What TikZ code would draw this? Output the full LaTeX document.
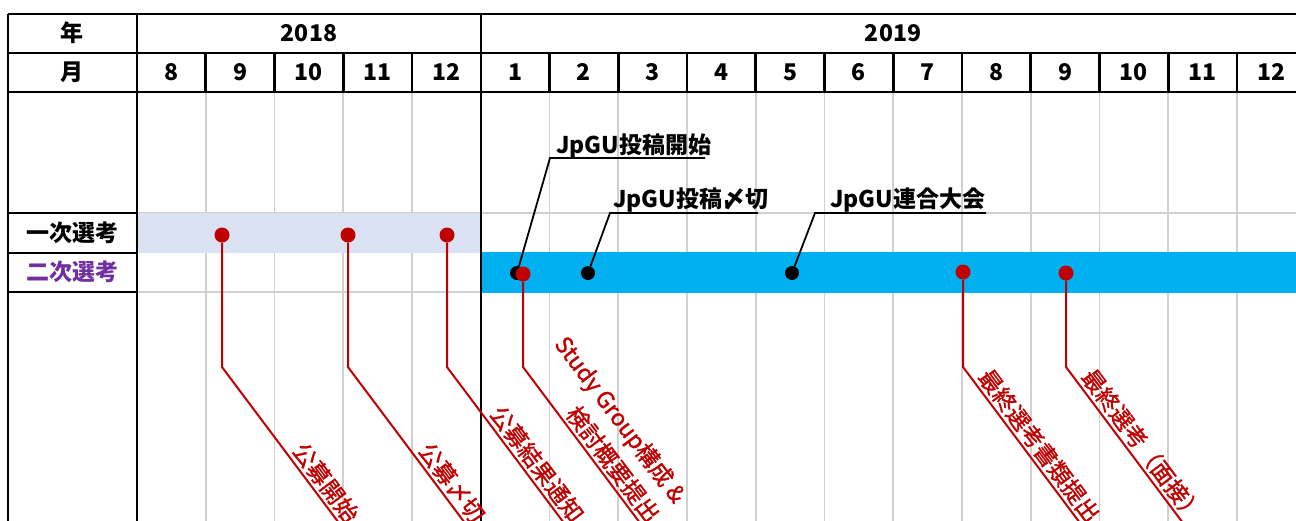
\documentclass[tikz,border=0pt]{standalone}
\usepackage{fontspec}
\setmainfont{Noto Sans CJK JP}
\newfontfamily\redfont{Noto Sans CJK JP}[FakeBold=1.3]
\usetikzlibrary{calc}
\definecolor{gridgray}{HTML}{D0D0D0}
\definecolor{bandone}{HTML}{D9E1F2}
\definecolor{bandtwo}{HTML}{00B0F0}
\definecolor{darkred}{HTML}{C00000}
\definecolor{purp}{HTML}{7030A0}
\begin{document}
\begin{tikzpicture}[x=1pt,y=-1pt,
  gridline/.style={gridgray, line width=1.8pt},
  frame/.style={black, line width=2.6pt},
  hdr/.style={font=\fontsize{23}{26}\selectfont\bfseries, inner sep=0pt},
  callout/.style={font=\fontsize{23}{26}\selectfont\bfseries, anchor=base west, inner sep=0pt},
  reddot/.style={circle, fill=darkred, minimum size=15pt, inner sep=0pt},
  blackdot/.style={circle, fill=black, minimum size=14pt, inner sep=0pt},
  redlbl/.style={text=darkred, font=\redfont\fontsize{23}{33}\selectfont, rotate=-53.13, anchor=south east, align=right, inner sep=1pt},
  redline/.style={darkred, line width=2pt},
  blackline/.style={black, line width=1.8pt}]
\useasboundingbox (0,0) rectangle (1296,520);
\clip (0,0) rectangle (1296,520);
% grid
\foreach \i in {1,...,16} {\draw[gridline] ({137+68.75*\i},92) -- ({137+68.75*\i},530);}
\draw[gridline] (137,213) -- (1310,213);
\draw[gridline] (137,292) -- (1310,292);
% bands
\fill[bandone] (137,213) rectangle (481,253);
\fill[bandtwo] (481,252) rectangle (1310,293);
% frame
\draw[frame] (8,14) -- (1310,14);
\draw[frame] (8,53) -- (1310,53);
\draw[frame] (8,92) -- (1310,92);
\draw[frame] (8,14) -- (8,530);
\draw[frame] (137,14) -- (137,530);
\draw[frame] (481,14) -- (481,530);
\foreach \i in {1,2,3,4,6,7,8,9,10,11,12,13,14,15,16} {\draw[frame] ({137+68.75*\i},53) -- ({137+68.75*\i},92);}
\draw[frame] (8,213) -- (137,213);
\draw[frame] (8,253) -- (137,253);
\draw[frame] (8,292) -- (137,292);
% header text
\node[hdr] (nen) at (72,33) {年};
\node[hdr] (tsuki) at (72,72) {月};
\node[hdr] (y18) at (309,33) {2018};
\node[hdr] (y19) at (893,33) {2019};
\foreach \m [count=\i from 0] in {8,9,10,11,12,1,2,3,4,5,6,7,8,9,10,11,12}
  {\node[hdr] (m\i) at ({137+68.75*(\i+0.5)},72) {\m};}
\node[hdr] (s1) at (72,233) {一次選考};
\node[hdr, text=purp] (s2) at (72,272) {二次選考};
% dots
\node[blackdot] (b1) at (517,273) {};
\node[blackdot] (b2) at (588,273) {};
\node[blackdot] (b3) at (792,273) {};
\node[reddot] (r1) at (222,235) {};
\node[reddot] (r2) at (348,235) {};
\node[reddot] (r3) at (447,235) {};
\node[reddot] (r4) at (523,274) {};
\node[reddot] (r5) at (963,272) {};
\node[reddot] (r6) at (1066,273) {};
% black callouts
\coordinate (c1a) at (550,158); \coordinate (c1b) at (705,158);
\coordinate (c2a) at (610,213); \coordinate (c2b) at (758,213);
\coordinate (c3a) at (815,213); \coordinate (c3b) at (986,213);
\draw[blackline] (b1) -- (c1a) -- (c1b);
\draw[blackline] (b2) -- (c2a) -- (c2b);
\draw[blackline] (b3) -- (c3a) -- (c3b);
\node[callout] (j1) at (556,153) {JpGU投稿開始};
\node[callout] (j2) at (613,207) {JpGU投稿〆切};
\node[callout] (j3) at (830,207) {JpGU連合大会};
% red callouts
\foreach \n/\x in {1/222,2/348,3/447,4/523,5/963,6/1066} {
  \coordinate (k\n) at (\x,367);
  \coordinate (e\n) at ({\x+135},547);
}
\draw[redline] (r1) -- (k1) -- (e1);
\draw[redline] (r2) -- (k2) -- (e2);
\draw[redline] (r3) -- (k3) -- (e3);
\draw[redline] (r4) -- (k4) -- (e4);
\draw[redline] (r5) -- (k5) -- (e5);
\draw[redline] (r6) -- (k6) -- (e6);
\node[redlbl] (t1) at ($(k1)+(122.8,160.4)$) {公募開始};
\node[redlbl] (t2) at ($(k2)+(122.8,160.4)$) {公募〆切};
\node[redlbl] (t3) at ($(k3)+(122.8,160.4)$) {公募結果通知};
\node[redlbl] (t4) at ($(k4)+(122.8,160.4)$) {Study Group構成 \&\\検討概要提出};
\node[redlbl] (t5) at ($(k5)+(122.8,160.4)$) {最終選考書類提出};
\node[redlbl] (t6) at ($(k6)+(122.8,160.4)$) {最終選考（面接）};
\end{tikzpicture}
\end{document}
